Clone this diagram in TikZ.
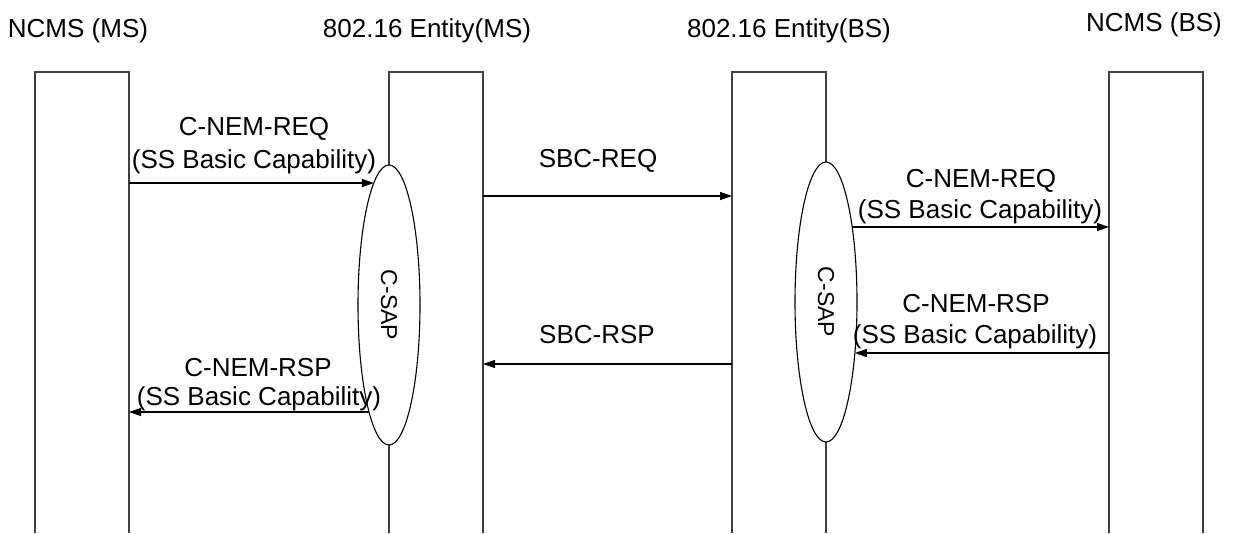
\documentclass[tikz,border=0pt]{standalone}
\usepackage{fontspec}
\setmainfont{Liberation Sans}
\usetikzlibrary{arrows.meta,shapes.geometric}
\begin{document}
\begin{tikzpicture}[x=1pt,y=-1pt,
  lifebox/.style={draw=none,minimum width=94pt,minimum height=461pt,anchor=north west,inner sep=0pt,outer sep=0pt},
  lifeline/.style={line width=1.6pt,draw=black!75},
  sap/.style={ellipse,draw,fill=white,line width=1.1pt,minimum width=62pt,minimum height=280pt,inner sep=0pt,outer sep=0pt},
  msg/.style={line width=1.2pt,-{Triangle[length=12pt,width=8pt]}},
  lbl/.style={font=\fontsize{26}{30}\selectfont,anchor=base,inner sep=0pt},
  saplbl/.style={font=\fontsize{23}{28}\selectfont,rotate=-90,inner sep=0pt}]
\useasboundingbox (0,0) rectangle (1241,533);
% titles
\node[lbl] (t1) at (78,37) {NCMS (MS)};
\node[lbl] (t2) at (427,37) {802.16 Entity(MS)};
\node[lbl] (t3) at (789,37) {802.16 Entity(BS)};
\node[lbl] (t4) at (1154,31) {NCMS (BS)};
% lifeline boxes (open at the bottom)
\node[lifebox] (L1) at (35,72) {};
\node[lifebox] (L2) at (389,72) {};
\node[lifebox] (L3) at (732,72) {};
\node[lifebox] (L4) at (1109,72) {};
\foreach \b in {L1,L2,L3,L4}
  \draw[lifeline] (\b.south west) -- (\b.north west) -- (\b.north east) -- (\b.south east);
% C-SAP ellipses
\node[sap] (e1) at (389,305) {};
\node[saplbl] (s1) at (e1.center) {C-SAP};
\node[sap] (e2) at (826,302) {};
\node[saplbl] (s2) at (e2.center) {C-SAP};
% message anchors
\coordinate (m1s) at (L1.north east |- 0,183);
\coordinate (m1e) at (e1.97 |- m1s);
\coordinate (m2s) at (L2.north east |- 0,196);
\coordinate (m2e) at (L3.north west |- m2s);
\coordinate (m3s) at (e2.70.7 |- 0,227);
\coordinate (m3e) at (L4.north west |- m3s);
\coordinate (m4s) at (L4.north west |- 0,353);
\coordinate (m4e) at (e2.299.5 |- m4s);
\coordinate (m5s) at (L3.north west |- 0,364);
\coordinate (m5e) at (L2.north east |- m5s);
\coordinate (m6s) at (e1.259.4 |- 0,412);
\coordinate (m6e) at (L1.north east |- m6s);
% messages
\draw[msg] (m1s) -- (m1e);
\draw[msg] (m2s) -- (m2e);
\draw[msg] (m3s) -- (m3e);
\draw[msg] (m4s) -- (m4e);
\draw[msg] (m5s) -- (m5e);
\draw[msg] (m6s) -- (m6e);
% labels
\node[lbl] (l1a) at (254,135) {C-NEM-REQ};
\node[lbl] (l1b) at (254,168) {(SS Basic Capability)};
\node[lbl] (l2) at (598,167) {SBC-REQ};
\node[lbl] (l3a) at (981,187) {C-NEM-REQ};
\node[lbl] (l3b) at (980,218) {(SS Basic Capability)};
\node[lbl] (l4a) at (976,312) {C-NEM-RSP};
\node[lbl] (l4b) at (975,343) {(SS Basic Capability)};
\node[lbl] (l5) at (597,343) {SBC-RSP};
\node[lbl] (l6a) at (258,376) {C-NEM-RSP};
\node[lbl] (l6b) at (259,405) {(SS Basic Capability)};
\end{tikzpicture}
\end{document}
